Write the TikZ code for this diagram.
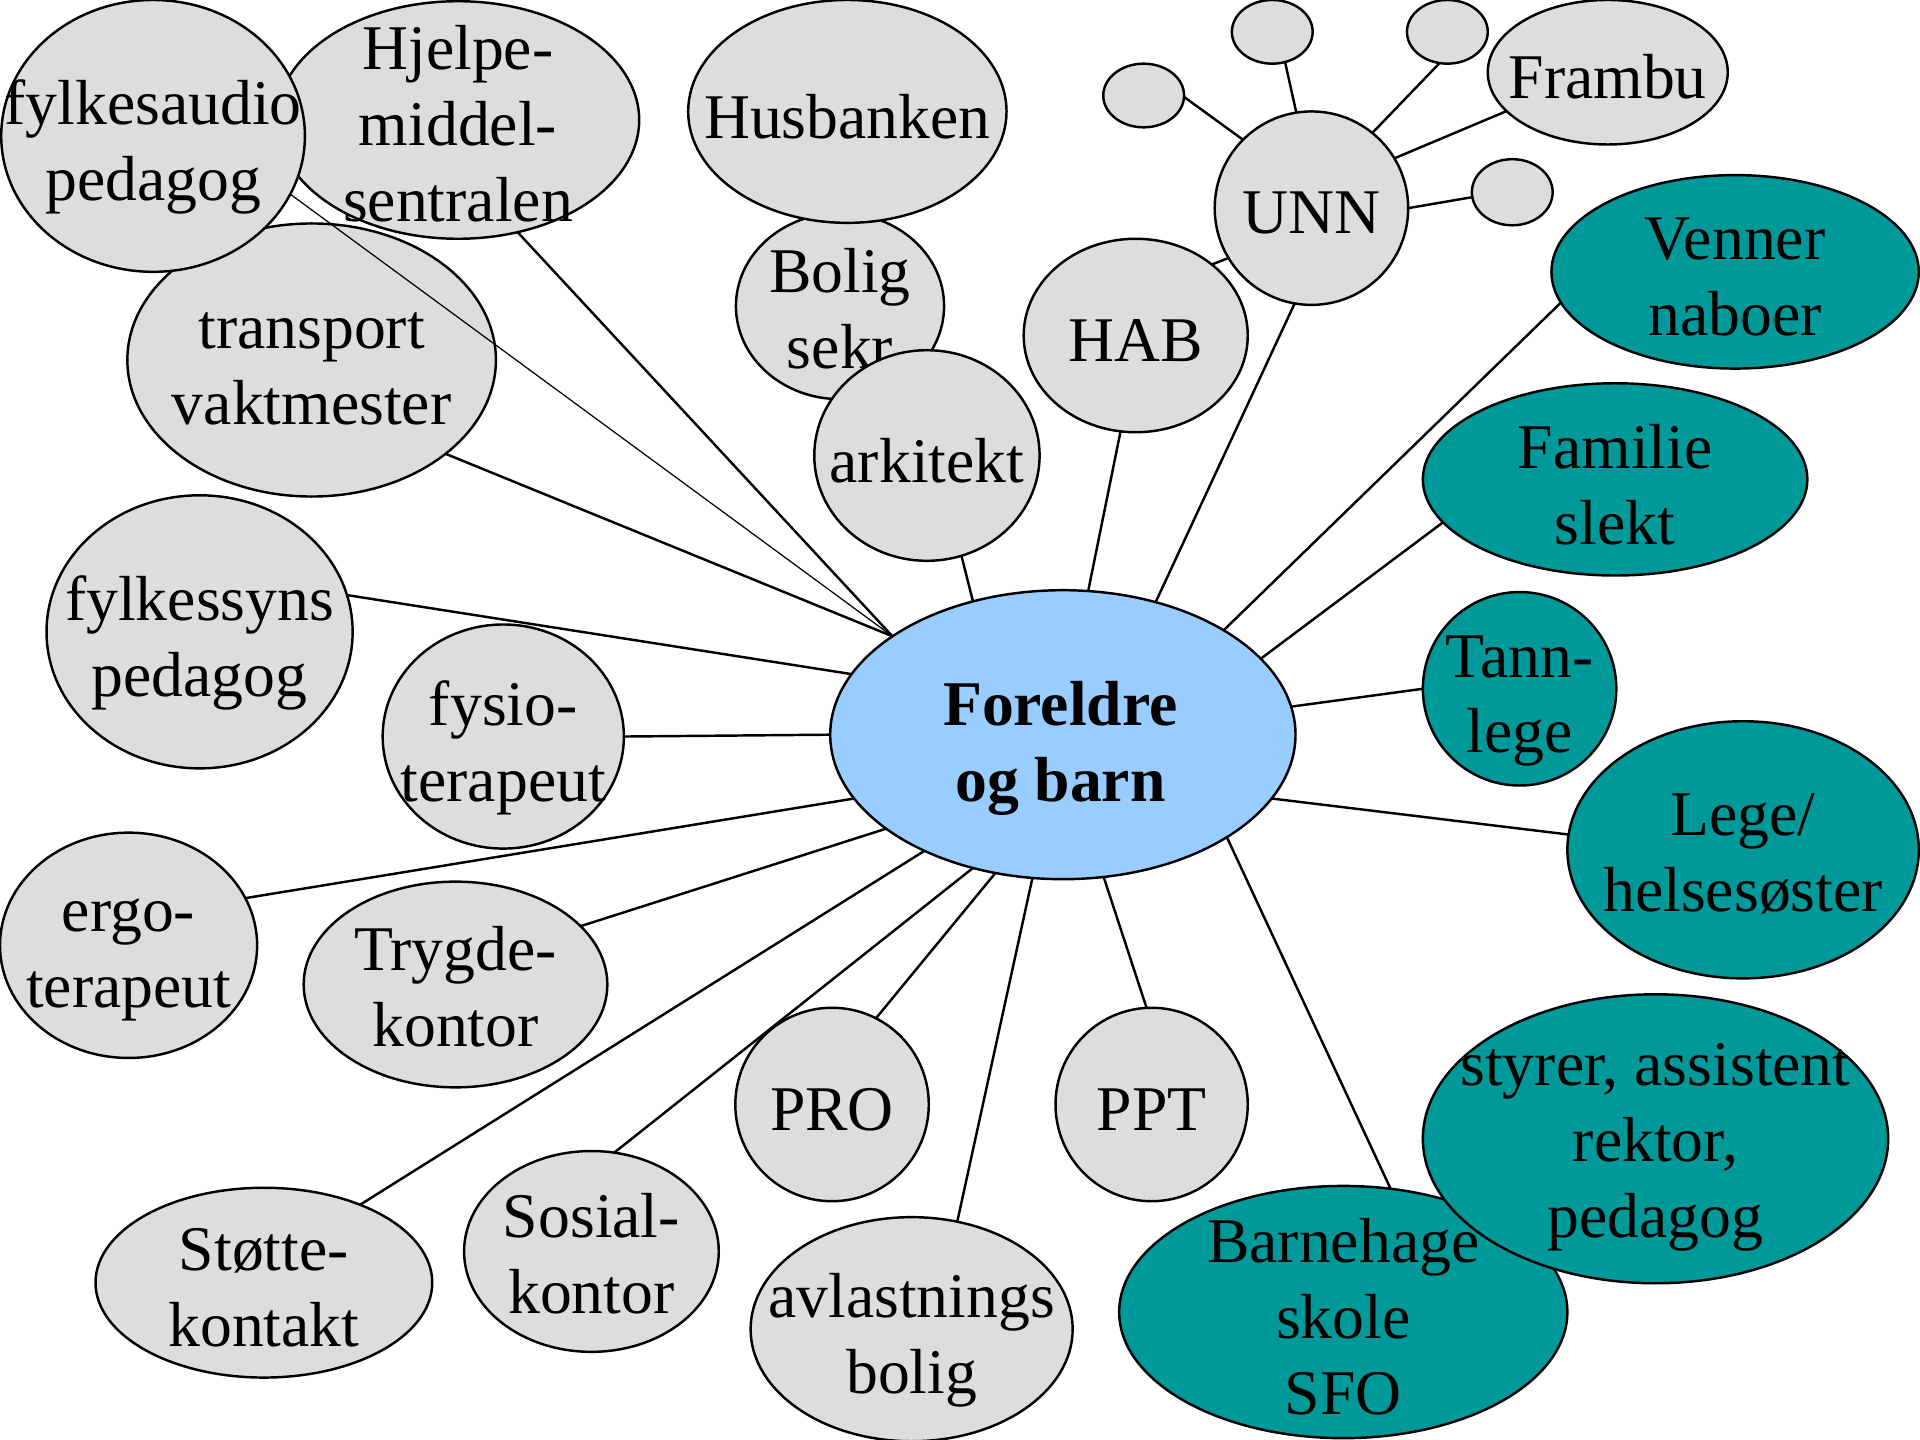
\documentclass[tikz,border=0pt]{standalone}
\usepackage{fontspec}
\setmainfont{Liberation Serif}
\usetikzlibrary{shapes.geometric}
\definecolor{gfill}{HTML}{DDDDDD}
\definecolor{tfill}{HTML}{009999}
\definecolor{bfill}{HTML}{99CCFF}
\begin{document}
\begin{tikzpicture}[x=0.5pt,y=-0.5pt,
  ebox/.style={ellipse, draw=black, line width=1pt, inner sep=0pt, outer sep=0pt},
  gnode/.style={ebox, fill=gfill},
  tnode/.style={ebox, fill=tfill},
  cnode/.style={ebox, fill=bfill},
  sz/.style 2 args={minimum width=#1pt, minimum height=#2pt},
  txt/.style={align=center, font=\fontsize{26}{31}\selectfont, inner sep=0pt, yshift=-2pt},
  ctxt/.style={txt, font=\fontsize{26}{31}\selectfont\bfseries},
  link/.style={line width=1pt},
  thinlink/.style={line width=0.5pt}]
\useasboundingbox (0,0) rectangle (1568,1176);

% left / top cluster
\node[gnode,sz={150.5}{111.5}] (tr) at (254.5,294) {};
\node[txt,yshift=-1.5pt] (tr-t) at (tr) {transport\\vaktmester};
\node[gnode,sz={148}{97}] (hj) at (374,98) {};
\node[txt,yshift=0.5pt] (hj-t) at (hj) {Hjelpe-\\middel-\\sentralen};
\node[gnode,sz={124}{111}] (fa) at (125,111) {};
\node[txt,yshift=-2.5pt] (fa-t) at (fa) {fylkesaudio\\pedagog};
\node[gnode,sz={125}{111.5}] (fs) at (163,516) {};
\node[txt,yshift=-2.5pt] (fs-t) at (fs) {fylkessyns\\pedagog};
\node[gnode,sz={98.5}{91.5}] (fy) at (411,601.5) {};
\node[txt,yshift=-2.5pt] (fy-t) at (fy) {fysio-\\terapeut};
\node[gnode,sz={105}{92}] (er) at (105,772) {};
\node[txt,yshift=-4pt] (er-t) at (er) {ergo-\\terapeut};
\node[gnode,sz={124}{84}] (ty) at (372,804) {};
\node[txt,yshift=1pt] (ty-t) at (ty) {Trygde-\\kontor};
\node[gnode,sz={137.5}{77.5}] (st) at (215.5,1047.5) {};
\node[txt] (st-t) at (st) {Støtte-\\kontakt};
\node[gnode,sz={104}{82}] (so) at (483,1022) {};
\node[txt,yshift=1pt] (so-t) at (so) {Sosial-\\kontor};
\node[gnode,sz={79}{79}] (pro) at (679.5,902) {};
\node[txt] (pro-t) at (pro) {PRO};
\node[gnode,sz={131.5}{91.5}] (av) at (744.5,1085.5) {};
\node[txt,yshift=-2.5pt] (av-t) at (av) {avlastnings\\bolig};
\node[gnode,sz={78.5}{79}] (ppt) at (940.5,902) {};
\node[txt] (ppt-t) at (ppt) {PPT};
\node[gnode,sz={85}{76}] (bo) at (686,250) {};
\node[txt,yshift=1pt] (bo-t) at (bo) {Bolig\\sekr};
\node[gnode,sz={130}{91}] (hu) at (692,91) {};
\node[txt] (hu-t) at (hu) {Husbanken};
\node[gnode,sz={92}{86}] (ark) at (757,372) {};
\node[txt] (ark-t) at (ark) {arkitekt};
\node[gnode,sz={91.5}{79}] (hab) at (927.5,274) {};
\node[txt] (hab-t) at (hab) {HAB};
\node[gnode,sz={79}{79}] (unn) at (1071,170) {};
\node[txt] (unn-t) at (unn) {UNN};
\node[gnode,sz={33}{26}] (s1) at (934,78) {};
\node[gnode,sz={33}{26}] (s2) at (1039,26) {};
\node[gnode,sz={33}{26}] (s3) at (1182,26) {};
\node[gnode,sz={33}{27}] (s4) at (1235,157) {};
\node[gnode,sz={98}{59}] (fr) at (1313,59) {};
\node[txt] (fr-t) at (fr) {Frambu};

% right cluster
\node[tnode,sz={150}{79}] (ven) at (1417,222) {};
\node[txt] (ven-t) at (ven) {Venner\\naboer};
\node[tnode,sz={157}{78.5}] (fam) at (1319,391.5) {};
\node[txt] (fam-t) at (fam) {Familie\\slekt};
\node[tnode,sz={79}{79}] (tn) at (1241,562.5) {};
\node[txt,yshift=-3pt] (tn-t) at (tn) {Tann-\\lege};
\node[tnode,sz={143.5}{105}] (lg) at (1423.5,694) {};
\node[txt,yshift=0.5pt] (lg-t) at (lg) {Lege/\\helsesøster};
\node[tnode,sz={183}{103}] (bh) at (1097,1071.5) {};
\node[tnode,sz={190}{118}] (sty) at (1352,930) {};
\node[txt,yshift=-1.5pt] (sty-t) at (sty) {styrer, assistent\\rektor,\\pedagog};

% centre
\node[cnode,sz={190}{118}] (c) at (868,600) {};
\node[ctxt,yshift=-3.5pt,xshift=-1pt] (c-t) at (c) {Foreldre\\og barn};

% connectors
\draw[thinlink] (fa.-23.5) -- (c.150);
\draw[link] (hj.-62) -- (c.150);
\draw[link] (tr.-35) -- (c.150);
\draw[link] (fs.14) -- (c.164);
\draw[link] (fy.0) -- (c.180);
\draw[link] (er.22) -- (c.197);
\draw[link] (ty.25) -- (c.208);
\draw[link] (st.39) -- (c.220);
\draw[link] (so.77) -- (c.236);
\draw[link] (pro.63) -- (c.244);
\draw[link] (av.67) -- (c.258);
\draw[link] (ppt.93) -- (c.-74);
\draw[link] (bh.69) -- (c.-32);
\draw[link] (lg.175) -- (c.-17);
\draw[link] (tn.180) -- (c.7);
\draw[link] (fam.194) -- (c.21);
\draw[link] (ven.190) -- (c.33);
\draw[link] (unn.260) -- (c.55);
\draw[link] (hab.261) -- (c.80);
\draw[link] (ark.-71) -- (c.124);
\draw[link] (unn.211) -- (hab.43);
\draw[link] (unn.135) -- (s1.-2);
\draw[link] (unn.99) -- (s2.-67);
\draw[link] (unn.51) -- (s3.256);
\draw[link] (unn.31) -- (fr.201);
\draw[link] (unn.0) -- (s4.187);

\node[txt] (bh-t) at (bh) {Barnehage\\skole\\SFO};
\end{tikzpicture}
\end{document}
